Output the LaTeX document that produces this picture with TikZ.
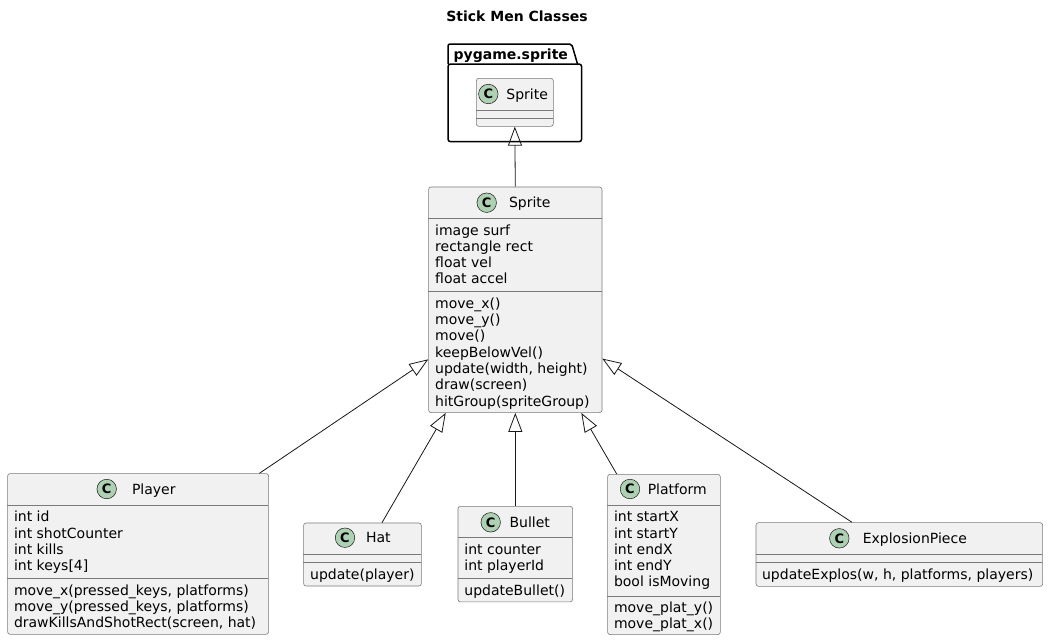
\documentclass[tikz,border=0pt]{standalone}
\usepackage{fontspec}
\setmainfont{DejaVu Sans}
\usetikzlibrary{arrows.meta,calc}
\definecolor{classfill}{HTML}{F1F1F1}
\definecolor{linec}{HTML}{181818}
\definecolor{borderc}{HTML}{7A7A7A}
\definecolor{circfill}{HTML}{ADD1B2}
\begin{document}
\begin{tikzpicture}[x=1pt,y=-1pt,
  classbox/.style={draw=borderc, fill=classfill, rounded corners=2.5pt, line width=0.6pt, inner sep=0pt, anchor=north west},
  divider/.style={draw=borderc, line width=0.6pt},
  txt/.style={inner sep=0pt, anchor=mid west, yshift=-2.3pt, font=\fontsize{14}{16.3}\selectfont},
  cname/.style={inner sep=0pt, anchor=mid, yshift=-2.3pt, font=\fontsize{14}{16.3}\selectfont},
  circ/.style={circle, draw=linec, fill=circfill, line width=0.5pt, minimum size=19.5pt, inner sep=0pt, font=\fontsize{13}{13}\selectfont\bfseries},
  inh/.style={draw=linec, line width=0.8pt, -{Triangle[open, length=19pt, width=14pt]}},
  boldtxt/.style={inner sep=0pt, anchor=mid, yshift=-2.3pt, font=\fontsize{14}{16.3}\selectfont\bfseries},
]
\useasboundingbox (0,0) rectangle (1048,641);
\fill[white] (0,0) rectangle (1048,641);

% title
\node[boldtxt] (title) at (517,16.7) {Stick Men Classes};

% package
\draw[line width=1.5pt, fill=white, rounded corners=2.5pt] (448,64) rectangle (581.6,141.7);
\draw[line width=1.5pt, rounded corners=2pt, line join=round] (448,64) -- (448,44) -- (571.7,44) -- (577.5,64);
\node[boldtxt] (pkgname) at (510.8,54) {pygame.sprite};

% inner Sprite
\node[classbox, minimum width=77pt, minimum height=48pt] (pkgsprite) at (476,78) {};
\draw[divider] (476,110.7) -- (553,110.7);
\draw[divider] (476,118.3) -- (553,118.3);
\node[circ] (c0) at (488.3,94) {C};
\node[cname] (n0) at (527.2,94) {Sprite};

% main Sprite
\node[classbox, minimum width=173.4pt, minimum height=225.6pt] (sprite) at (428.3,186.7) {};
\draw[divider] (428.3,218.3) -- (601.7,218.3);
\draw[divider] (428.3,291.7) -- (601.7,291.7);
\node[circ] (c1) at (486.7,202.7) {C};
\node[cname] (n1) at (529.8,202.7) {Sprite};
\node[txt] at (435,230) {image surf};
\node[txt] at (435,246.3) {rectangle rect};
\node[txt] at (435,262.6) {float vel};
\node[txt] at (435,278.9) {float accel};
\node[txt] at (435,303.3) {move\_x()};
\node[txt] at (435,319.6) {move\_y()};
\node[txt] at (435,335.9) {move()};
\node[txt] at (435,352.2) {keepBelowVel()};
\node[txt] at (435,368.5) {update(width, height)};
\node[txt] at (435,384.8) {draw(screen)};
\node[txt] at (435,401.1) {hitGroup(spriteGroup)};

% Player
\node[classbox, minimum width=261pt, minimum height=160.7pt] (player) at (7.3,473.3) {};
\draw[divider] (7.3,505) -- (268.3,505);
\draw[divider] (7.3,578.5) -- (268.3,578.5);
\node[circ] (c2) at (106.7,489) {C};
\node[cname] (n2) at (153.8,489) {Player};
\node[txt] at (13.8,516.7) {int id};
\node[txt] at (13.8,533) {int shotCounter};
\node[txt] at (13.8,549.3) {int kills};
\node[txt] at (13.8,565.6) {int keys[4]};
\node[txt] at (13.8,590.2) {move\_x(pressed\_keys, platforms)};
\node[txt] at (13.8,606.5) {move\_y(pressed\_keys, platforms)};
\node[txt] at (13.8,622.8) {drawKillsAndShotRect(screen, hat)};

% Hat
\node[classbox, minimum width=117.7pt, minimum height=63pt] (hat) at (303.3,522.7) {};
\draw[divider] (303.3,554.3) -- (421,554.3);
\draw[divider] (303.3,562.3) -- (421,562.3);
\node[circ] (c3) at (345,537.7) {C};
\node[cname] (n3) at (378.3,537.7) {Hat};
\node[txt] at (310,574) {update(player)};

% Bullet
\node[classbox, minimum width=114.6pt, minimum height=95.6pt] (bullet) at (457.7,506) {};
\draw[divider] (457.7,537.3) -- (572.3,537.3);
\draw[divider] (457.7,578.3) -- (572.3,578.3);
\node[circ] (c4) at (490.7,522.3) {C};
\node[cname] (n4) at (529.7,522.3) {Bullet};
\node[txt] at (464.2,549.3) {int counter};
\node[txt] at (464.2,565.6) {int playerId};
\node[txt] at (464.2,590) {updateBullet()};

% Platform
\node[classbox, minimum width=112.7pt, minimum height=160.3pt] (platform) at (607.3,474) {};
\draw[divider] (607.3,505) -- (720,505);
\draw[divider] (607.3,595.8) -- (720,595.8);
\node[circ] (c5) at (630,489) {C};
\node[cname] (n5) at (677.3,489) {Platform};
\node[txt] at (613.8,516.7) {int startX};
\node[txt] at (613.8,533) {int startY};
\node[txt] at (613.8,549.3) {int endX};
\node[txt] at (613.8,565.6) {int endY};
\node[txt] at (613.8,581.9) {bool isMoving};
\node[txt] at (613.8,607.5) {move\_plat\_y()};
\node[txt] at (613.8,623.8) {move\_plat\_x()};

% ExplosionPiece
\node[classbox, minimum width=286.6pt, minimum height=63.7pt] (explosion) at (755.7,522.3) {};
\draw[divider] (755.7,554) -- (1042.3,554);
\draw[divider] (755.7,562) -- (1042.3,562);
\node[circ] (c6) at (839.3,538.3) {C};
\node[cname] (n6) at (914.8,538.3) {ExplosionPiece};
\node[txt] at (761.9,574) {updateExplos(w, h, platforms, players)};

% inheritance edges
\draw[inh] (sprite.north) -- (pkgsprite.south);
\draw[inh] ($(player.north east)+(-9.5,0)$) -- ($(sprite.west)+(0,59.5)$);
\draw[inh] ($(hat.north)+(19.5,0)$) -- ($(sprite.south west)+(17.4,0)$);
\draw[inh] (bullet.north) -- (sprite.south);
\draw[inh] ($(platform.north west)+(9.4,0)$) -- ($(sprite.south east)+(-21,0)$);
\draw[inh] ($(explosion.north)+(-47.3,0)$) -- ($(sprite.east)+(0,58.8)$);
\end{tikzpicture}
\end{document}
